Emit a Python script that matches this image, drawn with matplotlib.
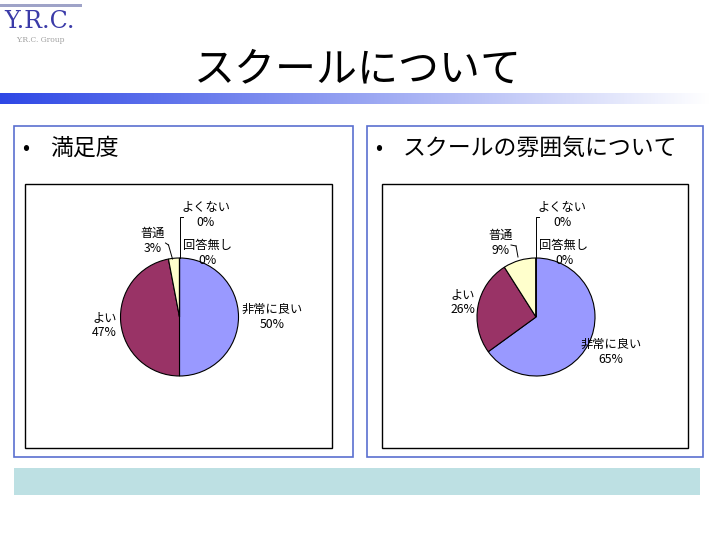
import matplotlib.pyplot as plt
import numpy as np
from matplotlib.patches import Rectangle

plt.rcParams['font.family'] = ['Noto Sans CJK JP', 'DejaVu Sans']

# data
categories = ["非常に良い", "よい", "普通", "よくない", "回答無し"]
satisfaction = [50, 47, 3, 0, 0]
atmosphere = [65, 26, 9, 0, 0]
slice_colors = ["#9999FF", "#993366", "#FFFFCC", "#CCFFFF", "#660066"]

title = "スクールについて"
panel_titles = ["満足度", "スクールの雰囲気について"]

# label offsets from pie centre (pixels, x right / y down)
offsets_left = [(93, 0), (-75, 8), (-27, -76), (26, -102), (28, -64)]
offsets_right = [(75, 35), (-73, -15), (-35, -74), (26, -102), (28, -64)]

W, H = 720, 540
fig = plt.figure(figsize=(7.2, 5.4), dpi=100)
bg = fig.add_axes([0, 0, 1, 1])
bg.set_xlim(0, W)
bg.set_ylim(H, 0)
bg.axis('off')

# logo
bg.add_patch(Rectangle((0, 4), 82, 3, color='#9fa3c8', lw=0))
bg.text(40, 22, "Y.R.C.", family='DejaVu Serif', fontsize=17, color='#3a3aa8',
        ha='center', va='center')
bg.text(40, 40, "Y.R.C. Group", family='DejaVu Serif', fontsize=5.5, color='#a0a0a0',
        ha='center', va='center')

# title
bg.text(358, 70, title, fontsize=29.5, ha='center', va='center', color='black')

# gradient bar
grad = np.linspace(0, 1, 256).reshape(1, -1)
c0 = np.array([0.18, 0.28, 0.90])
c1 = np.array([1.0, 1.0, 1.0])
img = c0[None, None, :] * (1 - grad[..., None]) + c1[None, None, :] * grad[..., None]
bg.imshow(img, extent=(0, 710, 104, 93), aspect='auto', zorder=1)

# panels
panel_x = [(14, 353), (367, 703)]
frame_x = [(25, 332), (382, 688)]
for (x0, x1), (fx0, fx1), pt in zip(panel_x, frame_x, panel_titles):
    bg.add_patch(Rectangle((x0, 126), x1 - x0, 331, fill=False, ec='#5a6fd0', lw=1.2))
    bg.add_patch(Rectangle((fx0, 184), fx1 - fx0, 264, fill=False, ec='black', lw=1))
    bg.text(x0 + 12, 148, "•", fontsize=15, ha='center', va='center')
    bg.text(x0 + 36, 148, pt, fontsize=16.5, ha='left', va='center')

# bottom bar
bg.add_patch(Rectangle((14, 468), 686, 27, color='#bde0e3', lw=0))


def draw_pie(fx0, fx1, values, offsets, leaders):
    ax = fig.add_axes([fx0 / W, (H - 448) / H, (fx1 - fx0) / W, 264 / H])
    cx = (fx0 + fx1) / 2 + 1
    cy = H - 317
    r = 59
    ax.pie(values, colors=slice_colors, startangle=90, counterclock=False,
           center=(cx, cy), radius=r,
           wedgeprops=dict(edgecolor='black', linewidth=0.8))
    ax.set_xlim(fx0, fx1)
    ax.set_ylim(H - 448, H - 184)
    ax.axis('off')
    for name, v, (dx, dy) in zip(categories, values, offsets):
        ax.text(cx + dx, cy - dy, f"{name}\n{v}%", fontsize=8.8, ha='center',
                va='center', linespacing=1.2)
    # leader line for the 0% label at the top
    ax.plot([cx, cx, cx + 3], [cy + r, cy + 100, cy + 100], color='black', lw=0.7)
    for (xa, ya), (xb, yb) in leaders:
        ax.plot([cx + xa, cx + xb], [cy - ya, cy - yb], color='black', lw=0.7)
    return ax


draw_pie(*frame_x[0], satisfaction, offsets_left,
         [((-14, -74), (-11, -72)), ((-11, -72), (-7, -58))])
draw_pie(*frame_x[1], atmosphere, offsets_right,
         [((-25, -72), (-20, -71)), ((-20, -71), (-18, -60))])

fig.savefig("out.png", dpi=100)
